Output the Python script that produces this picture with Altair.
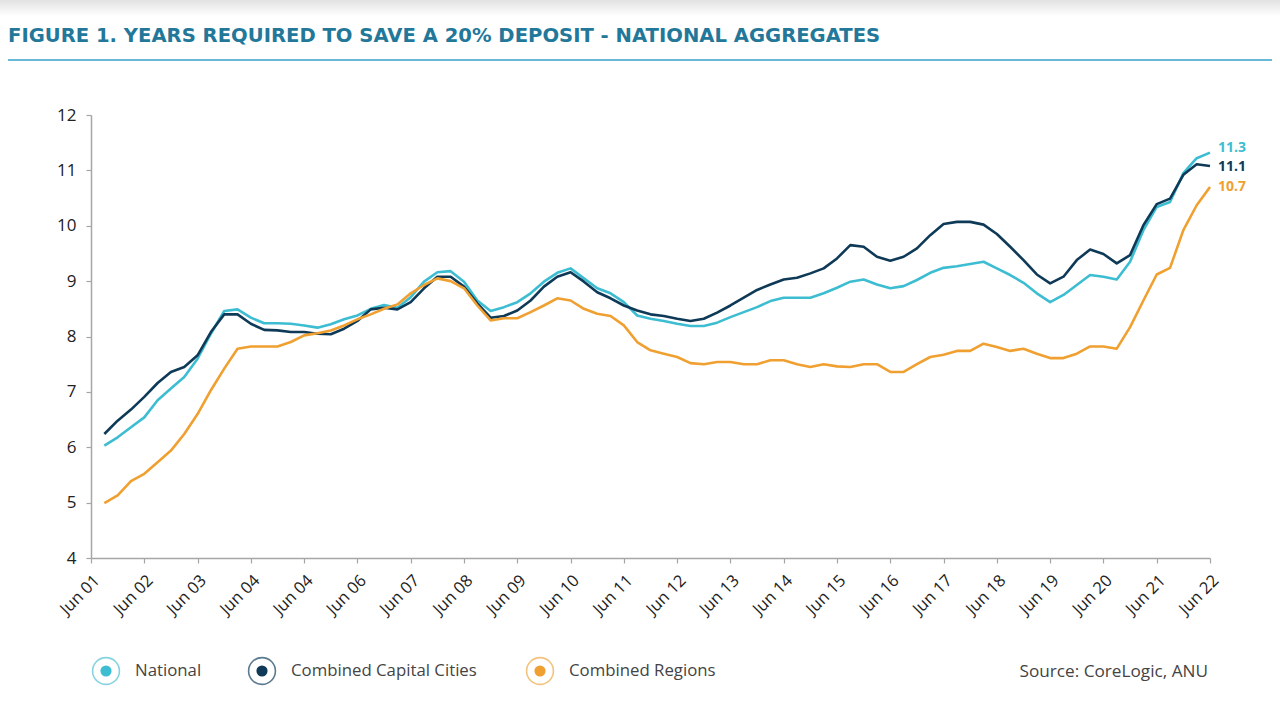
import altair as alt
import pandas as pd

# ---------------- data ----------------
quarters = list(range(1, 85))  # quarterly, Sep-01 ... Jun-22 (0 = Jun 01)

national = [
    6.03, 6.18, 6.36, 6.54, 6.85, 7.06, 7.27, 7.60, 8.05, 8.46, 8.49, 8.34, 8.24, 8.24, 8.23, 8.20, 8.16, 8.22, 8.31, 8.38, 8.50, 8.57,
    8.52, 8.71, 8.99, 9.16, 9.18, 8.99, 8.65, 8.46, 8.53, 8.62, 8.78, 8.99, 9.15, 9.23, 9.05, 8.87, 8.78, 8.62, 8.38, 8.32, 8.28,
    8.23, 8.19, 8.19, 8.25, 8.35, 8.44, 8.53, 8.64, 8.70, 8.70, 8.70, 8.78, 8.88, 8.99, 9.03, 8.94, 8.87, 8.91, 9.02, 9.15, 9.24,
    9.27, 9.31, 9.35, 9.23, 9.11, 8.97, 8.78, 8.62, 8.75, 8.93, 9.11, 9.08, 9.03, 9.35, 9.92, 10.34, 10.43, 10.95, 11.22, 11.32,
]
capital = [
    6.24, 6.48, 6.68, 6.91, 7.16, 7.36, 7.45, 7.66, 8.08, 8.40, 8.40, 8.23, 8.12, 8.11, 8.08, 8.08, 8.05, 8.04, 8.14, 8.28, 8.49, 8.52,
    8.49, 8.62, 8.87, 9.08, 9.08, 8.90, 8.60, 8.34, 8.37, 8.47, 8.65, 8.90, 9.08, 9.16, 8.99, 8.80, 8.69, 8.56, 8.47, 8.40, 8.37,
    8.32, 8.28, 8.32, 8.43, 8.56, 8.70, 8.84, 8.94, 9.03, 9.06, 9.14, 9.23, 9.41, 9.65, 9.62, 9.44, 9.37, 9.44, 9.59, 9.83, 10.03,
    10.07, 10.07, 10.02, 9.85, 9.62, 9.38, 9.12, 8.96, 9.08, 9.38, 9.57, 9.49, 9.32, 9.47, 10.01, 10.39, 10.49, 10.92, 11.11, 11.08,
]
regions = [
    4.99, 5.13, 5.39, 5.52, 5.73, 5.94, 6.24, 6.60, 7.03, 7.42, 7.78, 7.82, 7.82, 7.82, 7.90, 8.02, 8.06, 8.11, 8.20, 8.31, 8.40, 8.50,
    8.58, 8.78, 8.93, 9.05, 9.00, 8.87, 8.56, 8.29, 8.33, 8.33, 8.44, 8.56, 8.69, 8.65, 8.50, 8.41, 8.37, 8.20, 7.90, 7.75, 7.69,
    7.63, 7.52, 7.50, 7.54, 7.54, 7.50, 7.50, 7.57, 7.57, 7.50, 7.45, 7.50, 7.46, 7.45, 7.50, 7.50, 7.36, 7.36, 7.50, 7.63, 7.67,
    7.74, 7.74, 7.87, 7.81, 7.74, 7.78, 7.69, 7.61, 7.61, 7.69, 7.82, 7.82, 7.78, 8.17, 8.65, 9.12, 9.24, 9.92, 10.37, 10.70,
]

series_names = ["National", "Combined Capital Cities", "Combined Regions"]
series_values = [national, capital, regions]
series_colors = ["#3DBDD1", "#0E3A57", "#F0A030"]
ring_colors = ["#86D3E0", "#5A7A8F", "#F3C37E"]

tick_labels = ["Jun 01", "Jun 02", "Jun 03", "Jun 04", "Jun 04", "Jun 06", "Jun 07", "Jun 08",
               "Jun 09", "Jun 10", "Jun 11", "Jun 12", "Jun 13", "Jun 14", "Jun 15", "Jun 16",
               "Jun 17", "Jun 18", "Jun 19", "Jun 20", "Jun 21", "Jun 22"]
tick_positions = list(range(0, 85, 4))
y_ticks = [4, 5, 6, 7, 8, 9, 10, 11, 12]

title_text = "FIGURE 1. YEARS REQUIRED TO SAVE A 20% DEPOSIT - NATIONAL AGGREGATES"
source_text = "Source: CoreLogic, ANU"

# ---------------- tables ----------------
rows = []
for name, vals in zip(series_names, series_values):
    for q, v in zip(quarters, vals):
        rows.append({"series": name, "q": q, "value": v})
df = pd.DataFrame(rows)

# ---------------- layout ----------------
W, H = 1119, 443
L, T = 91, 115

x_scale = alt.Scale(domain=[0, 84], nice=False, zero=False)
y_scale = alt.Scale(domain=[4, 12], nice=False, zero=False)
color_scale = alt.Scale(domain=series_names, range=series_colors)

label_expr = "[" + ",".join("'%s'" % t for t in tick_labels) + "][round(datum.value/4)]"

x_axis = alt.Axis(values=tick_positions, labelExpr=label_expr, labelAngle=-45,
                  labelAlign="right", labelBaseline="top", labelFont="Open Sans",
                  labelFontSize=16.5, labelColor="#222222", labelPadding=9,
                  tickSize=5, tickColor="#A6A6A6", domainColor="#A6A6A6",
                  domainWidth=1.5, tickWidth=1.2, grid=False, title=None)
y_axis = alt.Axis(values=y_ticks, labelFont="Open Sans", labelFontSize=17,
                  labelColor="#222222", labelPadding=10, tickSize=5,
                  tickColor="#A6A6A6", domainColor="#A6A6A6", domainWidth=1.5,
                  tickWidth=1.2, grid=False, title=None)

layers = []

# top shadow band
band = alt.Chart(pd.DataFrame({"k": [0]})).mark_rect(
    fill=alt.Gradient(gradient="linear",
                      stops=[alt.GradientStop(color="#E2E2E2", offset=0),
                             alt.GradientStop(color="#FFFFFF", offset=1)],
                      x1=0, x2=0, y1=0, y2=1)
).encode(x=alt.value(-L), x2=alt.value(1280 - L), y=alt.value(-T), y2=alt.value(16 - T))
layers.append(band)

# title + underline
title = alt.Chart(pd.DataFrame({"t": [title_text]})).mark_text(
    align="left", baseline="middle", font="DejaVu Sans", fontWeight="bold",
    fontSize=19.6, color="#23789A"
).encode(text="t:N", x=alt.value(8 - L), y=alt.value(36 - T))
rule = alt.Chart(pd.DataFrame({"k": [0]})).mark_rule(color="#6AB8D8", strokeWidth=2).encode(
    x=alt.value(8 - L), x2=alt.value(1272 - L), y=alt.value(60 - T))
layers += [title, rule]

# lines
for name in series_names:
    layers.append(
        alt.Chart(df).transform_filter(alt.datum.series == name).mark_line(
            strokeWidth=2.6, strokeJoin="round"
        ).encode(
            x=alt.X("q:Q", scale=x_scale, axis=x_axis),
            y=alt.Y("value:Q", scale=y_scale, axis=y_axis),
            color=alt.Color("series:N", scale=color_scale, legend=None),
        )
    )

# end labels
end_dy = [-5, 1, 0]
for name, vals, col, dy in zip(series_names, series_values, series_colors, end_dy):
    lab = pd.DataFrame({"q": [quarters[-1]], "value": [vals[-1]], "txt": ["%.1f" % vals[-1]]})
    layers.append(
        alt.Chart(lab).mark_text(align="left", baseline="middle", dx=8, dy=dy,
                                 font="Open Sans", fontWeight="bold", fontSize=14, color=col)
        .encode(x=alt.X("q:Q", scale=x_scale, axis=x_axis),
                y=alt.Y("value:Q", scale=y_scale, axis=y_axis), text="txt:N")
    )

# custom legend
ring_x = [106, 262, 540]
for name, col, rcol, rx in zip(series_names, series_colors, ring_colors, ring_x):
    d = pd.DataFrame({"s": [name]})
    layers.append(alt.Chart(d).mark_point(shape="circle", size=720, filled=False,
                                          stroke=rcol, strokeWidth=1.6, opacity=1)
                  .encode(x=alt.value(rx - L), y=alt.value(671 - T)))
    layers.append(alt.Chart(d).mark_point(shape="circle", size=125, filled=True,
                                          fill=col, strokeWidth=0, opacity=1)
                  .encode(x=alt.value(rx - L), y=alt.value(671 - T)))
    layers.append(alt.Chart(d).mark_text(align="left", baseline="middle", font="Open Sans",
                                         fontSize=16.8, color="#444444")
                  .encode(text="s:N", x=alt.value(rx + 29 - L), y=alt.value(671 - T)))

source = alt.Chart(pd.DataFrame({"t": [source_text]})).mark_text(
    align="right", baseline="middle", font="Open Sans", fontSize=17.2, color="#444444"
).encode(text="t:N", x=alt.value(1208 - L), y=alt.value(672 - T))
layers.append(source)

chart = alt.layer(*layers).properties(
    width=W, height=H,
    autosize=alt.AutoSizeParams(type="none"),
    padding={"left": L, "top": T, "right": 1280 - L - W, "bottom": 720 - T - H},
    background="white",
).configure_view(stroke=None)

chart.save("out.html", embed_options={"renderer": "svg", "actions": False})
